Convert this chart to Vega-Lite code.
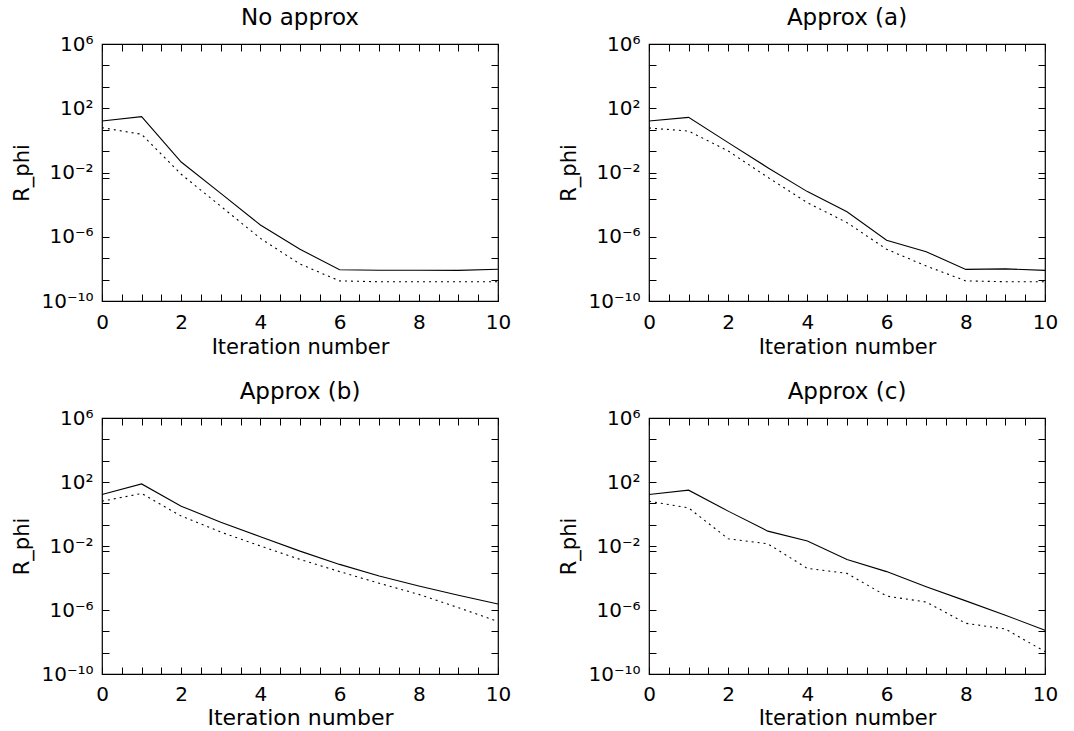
{
  "$schema": "https://vega.github.io/schema/vega-lite/v6.json",
  "background": "white",
  "padding": {"left": 11, "top": 6, "right": 5, "bottom": 1},
  "config": {
    "font": "DejaVu Sans",
    "view": {"stroke": "black", "strokeWidth": 1.2},
    "title": {"fontSize": 23, "fontWeight": "normal", "font": "DejaVu Sans", "color": "black", "offset": 4},
    "axis": {
      "domain": false, "grid": false,
      "tickColor": "black", "tickSize": -7, "tickWidth": 1,
      "labelFont": "DejaVu Sans", "labelFontSize": 20, "labelColor": "black",
      "titleFont": "DejaVu Sans", "titleFontSize": 21, "titleFontWeight": "normal", "titleColor": "black"
    },
    "line": {"color": "black", "strokeWidth": 1.1}
  },
  "data": {"values": [
    {"panel": "No approx", "series": "solid", "iter": 0, "value": 16.2},
    {"panel": "No approx", "series": "solid", "iter": 1, "value": 30.2},
    {"panel": "No approx", "series": "solid", "iter": 2, "value": 0.0447},
    {"panel": "No approx", "series": "solid", "iter": 3, "value": 5.0e-4},
    {"panel": "No approx", "series": "solid", "iter": 4, "value": 5.37e-6},
    {"panel": "No approx", "series": "solid", "iter": 5, "value": 1.66e-7},
    {"panel": "No approx", "series": "solid", "iter": 6, "value": 8.9e-9},
    {"panel": "No approx", "series": "solid", "iter": 7, "value": 8.3e-9},
    {"panel": "No approx", "series": "solid", "iter": 8, "value": 8.3e-9},
    {"panel": "No approx", "series": "solid", "iter": 9, "value": 8.1e-9},
    {"panel": "No approx", "series": "solid", "iter": 10, "value": 9.5e-9},
    {"panel": "No approx", "series": "dotted", "iter": 0, "value": 6.17},
    {"panel": "No approx", "series": "dotted", "iter": 1, "value": 2.4},
    {"panel": "No approx", "series": "dotted", "iter": 2, "value": 7.76e-3},
    {"panel": "No approx", "series": "dotted", "iter": 3, "value": 7.9e-5},
    {"panel": "No approx", "series": "dotted", "iter": 4, "value": 7.9e-7},
    {"panel": "No approx", "series": "dotted", "iter": 5, "value": 2.0e-8},
    {"panel": "No approx", "series": "dotted", "iter": 6, "value": 1.78e-9},
    {"panel": "No approx", "series": "dotted", "iter": 7, "value": 1.58e-9},
    {"panel": "No approx", "series": "dotted", "iter": 8, "value": 1.58e-9},
    {"panel": "No approx", "series": "dotted", "iter": 9, "value": 1.58e-9},
    {"panel": "No approx", "series": "dotted", "iter": 10, "value": 1.58e-9},
    {"panel": "Approx (a)", "series": "solid", "iter": 0, "value": 16.2},
    {"panel": "Approx (a)", "series": "solid", "iter": 1, "value": 26.9},
    {"panel": "Approx (a)", "series": "solid", "iter": 2, "value": 0.724},
    {"panel": "Approx (a)", "series": "solid", "iter": 3, "value": 0.02},
    {"panel": "Approx (a)", "series": "solid", "iter": 4, "value": 6.46e-4},
    {"panel": "Approx (a)", "series": "solid", "iter": 5, "value": 3.63e-5},
    {"panel": "Approx (a)", "series": "solid", "iter": 6, "value": 6.0e-7},
    {"panel": "Approx (a)", "series": "solid", "iter": 7, "value": 1.17e-7},
    {"panel": "Approx (a)", "series": "solid", "iter": 8, "value": 9.3e-9},
    {"panel": "Approx (a)", "series": "solid", "iter": 9, "value": 1.0e-8},
    {"panel": "Approx (a)", "series": "solid", "iter": 10, "value": 8.1e-9},
    {"panel": "Approx (a)", "series": "dotted", "iter": 0, "value": 5.89},
    {"panel": "Approx (a)", "series": "dotted", "iter": 1, "value": 3.8},
    {"panel": "Approx (a)", "series": "dotted", "iter": 2, "value": 0.219},
    {"panel": "Approx (a)", "series": "dotted", "iter": 3, "value": 5.0e-3},
    {"panel": "Approx (a)", "series": "dotted", "iter": 4, "value": 1.32e-4},
    {"panel": "Approx (a)", "series": "dotted", "iter": 5, "value": 7.6e-6},
    {"panel": "Approx (a)", "series": "dotted", "iter": 6, "value": 1.66e-7},
    {"panel": "Approx (a)", "series": "dotted", "iter": 7, "value": 1.51e-8},
    {"panel": "Approx (a)", "series": "dotted", "iter": 8, "value": 1.78e-9},
    {"panel": "Approx (a)", "series": "dotted", "iter": 9, "value": 1.58e-9},
    {"panel": "Approx (a)", "series": "dotted", "iter": 10, "value": 1.58e-9},
    {"panel": "Approx (b)", "series": "solid", "iter": 0, "value": 16.6},
    {"panel": "Approx (b)", "series": "solid", "iter": 1, "value": 75.9},
    {"panel": "Approx (b)", "series": "solid", "iter": 2, "value": 3.09},
    {"panel": "Approx (b)", "series": "solid", "iter": 3, "value": 0.309},
    {"panel": "Approx (b)", "series": "solid", "iter": 4, "value": 0.038},
    {"panel": "Approx (b)", "series": "solid", "iter": 5, "value": 4.79e-3},
    {"panel": "Approx (b)", "series": "solid", "iter": 6, "value": 7.08e-4},
    {"panel": "Approx (b)", "series": "solid", "iter": 7, "value": 1.32e-4},
    {"panel": "Approx (b)", "series": "solid", "iter": 8, "value": 3.16e-5},
    {"panel": "Approx (b)", "series": "solid", "iter": 9, "value": 8.3e-6},
    {"panel": "Approx (b)", "series": "solid", "iter": 10, "value": 2.4e-6},
    {"panel": "Approx (b)", "series": "dotted", "iter": 0, "value": 6.31},
    {"panel": "Approx (b)", "series": "dotted", "iter": 1, "value": 19.1},
    {"panel": "Approx (b)", "series": "dotted", "iter": 2, "value": 0.741},
    {"panel": "Approx (b)", "series": "dotted", "iter": 3, "value": 0.0741},
    {"panel": "Approx (b)", "series": "dotted", "iter": 4, "value": 0.01},
    {"panel": "Approx (b)", "series": "dotted", "iter": 5, "value": 1.45e-3},
    {"panel": "Approx (b)", "series": "dotted", "iter": 6, "value": 2.51e-4},
    {"panel": "Approx (b)", "series": "dotted", "iter": 7, "value": 4.68e-5},
    {"panel": "Approx (b)", "series": "dotted", "iter": 8, "value": 9.5e-6},
    {"panel": "Approx (b)", "series": "dotted", "iter": 9, "value": 1.4e-6},
    {"panel": "Approx (b)", "series": "dotted", "iter": 10, "value": 1.9e-7},
    {"panel": "Approx (c)", "series": "solid", "iter": 0, "value": 16.6},
    {"panel": "Approx (c)", "series": "solid", "iter": 1, "value": 30.9},
    {"panel": "Approx (c)", "series": "solid", "iter": 2, "value": 1.51},
    {"panel": "Approx (c)", "series": "solid", "iter": 3, "value": 0.0851},
    {"panel": "Approx (c)", "series": "solid", "iter": 4, "value": 0.0204},
    {"panel": "Approx (c)", "series": "solid", "iter": 5, "value": 1.45e-3},
    {"panel": "Approx (c)", "series": "solid", "iter": 6, "value": 2.51e-4},
    {"panel": "Approx (c)", "series": "solid", "iter": 7, "value": 2.88e-5},
    {"panel": "Approx (c)", "series": "solid", "iter": 8, "value": 3.72e-6},
    {"panel": "Approx (c)", "series": "solid", "iter": 9, "value": 4.68e-7},
    {"panel": "Approx (c)", "series": "solid", "iter": 10, "value": 5.5e-8},
    {"panel": "Approx (c)", "series": "dotted", "iter": 0, "value": 6.31},
    {"panel": "Approx (c)", "series": "dotted", "iter": 1, "value": 2.4},
    {"panel": "Approx (c)", "series": "dotted", "iter": 2, "value": 0.0282},
    {"panel": "Approx (c)", "series": "dotted", "iter": 3, "value": 0.0138},
    {"panel": "Approx (c)", "series": "dotted", "iter": 4, "value": 3.98e-4},
    {"panel": "Approx (c)", "series": "dotted", "iter": 5, "value": 1.95e-4},
    {"panel": "Approx (c)", "series": "dotted", "iter": 6, "value": 7.4e-6},
    {"panel": "Approx (c)", "series": "dotted", "iter": 7, "value": 3.16e-6},
    {"panel": "Approx (c)", "series": "dotted", "iter": 8, "value": 1.48e-7},
    {"panel": "Approx (c)", "series": "dotted", "iter": 9, "value": 6.5e-8},
    {"panel": "Approx (c)", "series": "dotted", "iter": 10, "value": 2.5e-9}
  ]},
  "columns": 2,
  "bounds": "flush",
  "spacing": {"row": 117, "column": 151},
  "concat": [
    {"title": "No approx", "width": 396, "height": 257,
     "transform": [{"filter": "datum.panel == 'No approx'"}],
     "layer": [
      {"transform": [{"filter": "datum.series == 'solid'"}], "mark": {"type": "line"},
       "encoding": {
        "x": {"field": "iter", "type": "quantitative", "scale": {"domain": [0, 10], "nice": false},
              "axis": {"orient": "bottom", "title": "Iteration number", "values": [0,0.5,1,1.5,2,2.5,3,3.5,4,4.5,5,5.5,6,6.5,7,7.5,8,8.5,9,9.5,10], "labelExpr": "datum.value % 2 == 0 ? datum.value : ''", "labelPadding": 18, "titlePadding": 4, "labelFlush": false}},
        "y": {"field": "value", "type": "quantitative", "scale": {"type": "log", "domain": [1e-10, 1e6], "nice": false},
              "axis": {"orient": "left", "title": "R_phi", "values": [1e6, 46416, 2154.4, 100, 4.6416, 0.21544, 0.01, 0.0046416, 0.00021544, 1e-6, 4.6416e-8, 2.1544e-9, 1e-10], "labelExpr": "datum.value == 1e6 ? '10⁶' : datum.value == 100 ? '10²' : datum.value == 0.01 ? '10⁻²' : datum.value == 1e-6 ? '10⁻⁶' : datum.value == 1e-10 ? '10⁻¹⁰' : ''", "labelPadding": 16, "titlePadding": 8, "labelFlush": false}}
       }},
      {"transform": [{"filter": "datum.series == 'dotted'"}], "mark": {"type": "line", "strokeDash": [2, 4]},
       "encoding": {
        "x": {"field": "iter", "type": "quantitative", "axis": {"orient": "top", "title": null, "labels": false, "values": [0,0.5,1,1.5,2,2.5,3,3.5,4,4.5,5,5.5,6,6.5,7,7.5,8,8.5,9,9.5,10]}},
        "y": {"field": "value", "type": "quantitative", "axis": {"orient": "right", "title": null, "labels": false, "values": [1e6, 46416, 2154.4, 100, 4.6416, 0.21544, 0.01, 0.0046416, 0.00021544, 1e-6, 4.6416e-8, 2.1544e-9, 1e-10]}}
       }}
     ],
     "resolve": {"axis": {"x": "independent", "y": "independent"}}
    },
    {"title": "Approx (a)", "width": 396, "height": 257,
     "transform": [{"filter": "datum.panel == 'Approx (a)'"}],
     "layer": [
      {"transform": [{"filter": "datum.series == 'solid'"}], "mark": {"type": "line"},
       "encoding": {
        "x": {"field": "iter", "type": "quantitative", "scale": {"domain": [0, 10], "nice": false},
              "axis": {"orient": "bottom", "title": "Iteration number", "values": [0,0.5,1,1.5,2,2.5,3,3.5,4,4.5,5,5.5,6,6.5,7,7.5,8,8.5,9,9.5,10], "labelExpr": "datum.value % 2 == 0 ? datum.value : ''", "labelPadding": 18, "titlePadding": 4, "labelFlush": false}},
        "y": {"field": "value", "type": "quantitative", "scale": {"type": "log", "domain": [1e-10, 1e6], "nice": false},
              "axis": {"orient": "left", "title": "R_phi", "values": [1e6, 46416, 2154.4, 100, 4.6416, 0.21544, 0.01, 0.0046416, 0.00021544, 1e-6, 4.6416e-8, 2.1544e-9, 1e-10], "labelExpr": "datum.value == 1e6 ? '10⁶' : datum.value == 100 ? '10²' : datum.value == 0.01 ? '10⁻²' : datum.value == 1e-6 ? '10⁻⁶' : datum.value == 1e-10 ? '10⁻¹⁰' : ''", "labelPadding": 16, "titlePadding": 8, "labelFlush": false}}
       }},
      {"transform": [{"filter": "datum.series == 'dotted'"}], "mark": {"type": "line", "strokeDash": [2, 4]},
       "encoding": {
        "x": {"field": "iter", "type": "quantitative", "axis": {"orient": "top", "title": null, "labels": false, "values": [0,0.5,1,1.5,2,2.5,3,3.5,4,4.5,5,5.5,6,6.5,7,7.5,8,8.5,9,9.5,10]}},
        "y": {"field": "value", "type": "quantitative", "axis": {"orient": "right", "title": null, "labels": false, "values": [1e6, 46416, 2154.4, 100, 4.6416, 0.21544, 0.01, 0.0046416, 0.00021544, 1e-6, 4.6416e-8, 2.1544e-9, 1e-10]}}
       }}
     ],
     "resolve": {"axis": {"x": "independent", "y": "independent"}}
    },
    {"title": "Approx (b)", "width": 396, "height": 256,
     "transform": [{"filter": "datum.panel == 'Approx (b)'"}],
     "layer": [
      {"transform": [{"filter": "datum.series == 'solid'"}], "mark": {"type": "line"},
       "encoding": {
        "x": {"field": "iter", "type": "quantitative", "scale": {"domain": [0, 10], "nice": false},
              "axis": {"orient": "bottom", "title": "Iteration number", "titleFontSize": 22, "values": [0,0.5,1,1.5,2,2.5,3,3.5,4,4.5,5,5.5,6,6.5,7,7.5,8,8.5,9,9.5,10], "labelExpr": "datum.value % 2 == 0 ? datum.value : ''", "labelPadding": 17, "titlePadding": 3, "labelFlush": false}},
        "y": {"field": "value", "type": "quantitative", "scale": {"type": "log", "domain": [1e-10, 1e6], "nice": false},
              "axis": {"orient": "left", "title": "R_phi", "values": [1e6, 46416, 2154.4, 100, 4.6416, 0.21544, 0.01, 0.0046416, 0.00021544, 1e-6, 4.6416e-8, 2.1544e-9, 1e-10], "labelExpr": "datum.value == 1e6 ? '10⁶' : datum.value == 100 ? '10²' : datum.value == 0.01 ? '10⁻²' : datum.value == 1e-6 ? '10⁻⁶' : datum.value == 1e-10 ? '10⁻¹⁰' : ''", "labelPadding": 16, "titlePadding": 8, "labelFlush": false}}
       }},
      {"transform": [{"filter": "datum.series == 'dotted'"}], "mark": {"type": "line", "strokeDash": [2, 4]},
       "encoding": {
        "x": {"field": "iter", "type": "quantitative", "axis": {"orient": "top", "title": null, "labels": false, "values": [0,0.5,1,1.5,2,2.5,3,3.5,4,4.5,5,5.5,6,6.5,7,7.5,8,8.5,9,9.5,10]}},
        "y": {"field": "value", "type": "quantitative", "axis": {"orient": "right", "title": null, "labels": false, "values": [1e6, 46416, 2154.4, 100, 4.6416, 0.21544, 0.01, 0.0046416, 0.00021544, 1e-6, 4.6416e-8, 2.1544e-9, 1e-10]}}
       }}
     ],
     "resolve": {"axis": {"x": "independent", "y": "independent"}}
    },
    {"title": "Approx (c)", "width": 396, "height": 256,
     "transform": [{"filter": "datum.panel == 'Approx (c)'"}],
     "layer": [
      {"transform": [{"filter": "datum.series == 'solid'"}], "mark": {"type": "line"},
       "encoding": {
        "x": {"field": "iter", "type": "quantitative", "scale": {"domain": [0, 10], "nice": false},
              "axis": {"orient": "bottom", "title": "Iteration number", "values": [0,0.5,1,1.5,2,2.5,3,3.5,4,4.5,5,5.5,6,6.5,7,7.5,8,8.5,9,9.5,10], "labelExpr": "datum.value % 2 == 0 ? datum.value : ''", "labelPadding": 17, "titlePadding": 3, "labelFlush": false}},
        "y": {"field": "value", "type": "quantitative", "scale": {"type": "log", "domain": [1e-10, 1e6], "nice": false},
              "axis": {"orient": "left", "title": "R_phi", "values": [1e6, 46416, 2154.4, 100, 4.6416, 0.21544, 0.01, 0.0046416, 0.00021544, 1e-6, 4.6416e-8, 2.1544e-9, 1e-10], "labelExpr": "datum.value == 1e6 ? '10⁶' : datum.value == 100 ? '10²' : datum.value == 0.01 ? '10⁻²' : datum.value == 1e-6 ? '10⁻⁶' : datum.value == 1e-10 ? '10⁻¹⁰' : ''", "labelPadding": 16, "titlePadding": 8, "labelFlush": false}}
       }},
      {"transform": [{"filter": "datum.series == 'dotted'"}], "mark": {"type": "line", "strokeDash": [2, 4]},
       "encoding": {
        "x": {"field": "iter", "type": "quantitative", "axis": {"orient": "top", "title": null, "labels": false, "values": [0,0.5,1,1.5,2,2.5,3,3.5,4,4.5,5,5.5,6,6.5,7,7.5,8,8.5,9,9.5,10]}},
        "y": {"field": "value", "type": "quantitative", "axis": {"orient": "right", "title": null, "labels": false, "values": [1e6, 46416, 2154.4, 100, 4.6416, 0.21544, 0.01, 0.0046416, 0.00021544, 1e-6, 4.6416e-8, 2.1544e-9, 1e-10]}}
       }}
     ],
     "resolve": {"axis": {"x": "independent", "y": "independent"}}
    }
  ]
}
